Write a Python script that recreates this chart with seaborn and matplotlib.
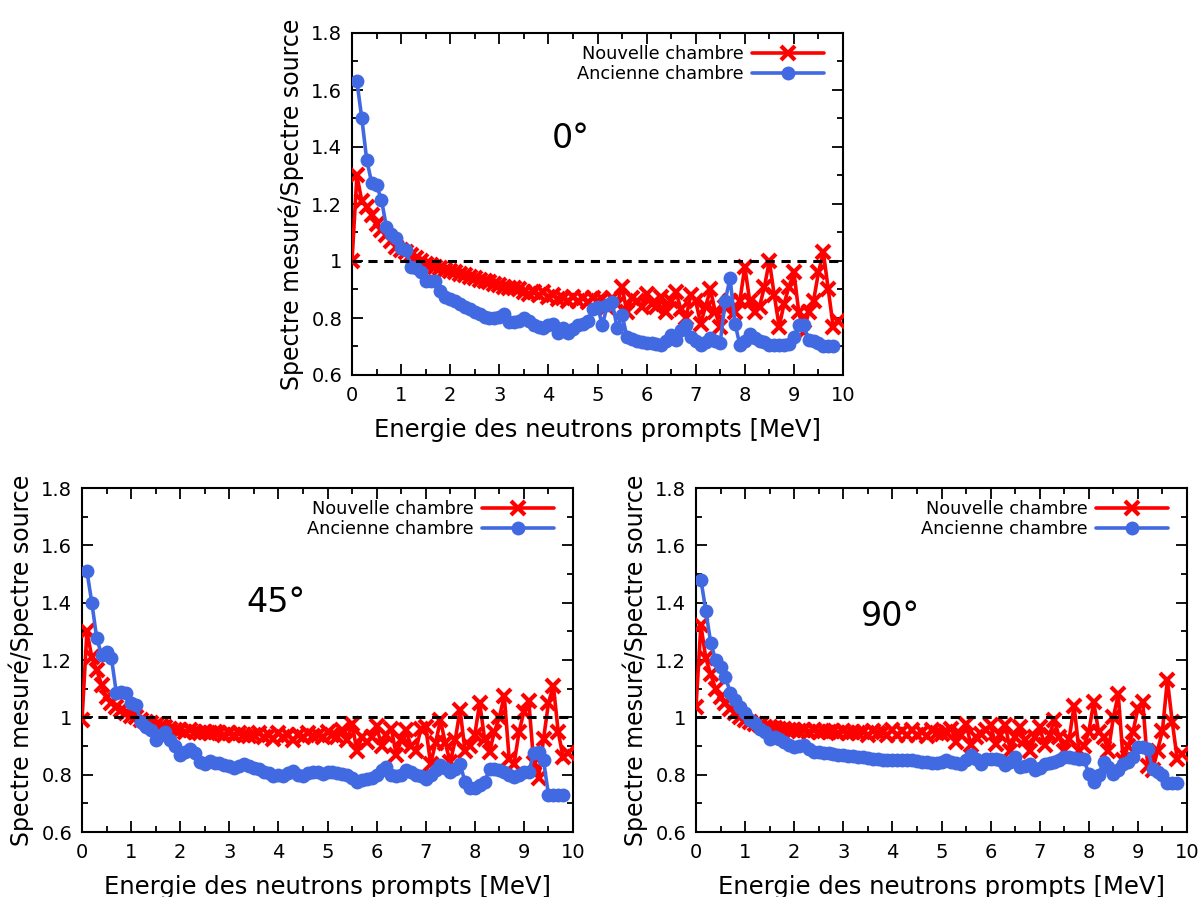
import matplotlib
matplotlib.use("Agg")
import matplotlib.pyplot as plt
import seaborn as sns
import pandas as pd
from matplotlib.ticker import MultipleLocator

# ---------------- data ----------------
energy = [0.0, 0.1, 0.2, 0.3, 0.4, 0.5, 0.6, 0.7, 0.8, 0.9,
          1.0, 1.1, 1.2, 1.3, 1.4, 1.5, 1.6, 1.7, 1.8, 1.9,
          2.0, 2.1, 2.2, 2.3, 2.4, 2.5, 2.6, 2.7, 2.8, 2.9,
          3.0, 3.1, 3.2, 3.3, 3.4, 3.5, 3.6, 3.7, 3.8, 3.9,
          4.0, 4.1, 4.2, 4.3, 4.4, 4.5, 4.6, 4.7, 4.8, 4.9,
          5.0, 5.1, 5.2, 5.3, 5.4, 5.5, 5.6, 5.7, 5.8, 5.9,
          6.0, 6.1, 6.2, 6.3, 6.4, 6.5, 6.6, 6.7, 6.8, 6.9,
          7.0, 7.1, 7.2, 7.3, 7.4, 7.5, 7.6, 7.7, 7.8, 7.9,
          8.0, 8.1, 8.2, 8.3, 8.4, 8.5, 8.6, 8.7, 8.8, 8.9,
          9.0, 9.1, 9.2, 9.3, 9.4, 9.5, 9.6, 9.7, 9.8, 9.9]
energy_old = energy[1:99]   # 0.1 ... 9.8

new_0 = [1.00, 1.30, 1.21, 1.19, 1.16, 1.13, 1.11, 1.09, 1.07, 1.05,
         1.04, 1.03, 1.02, 1.01, 1.00, 0.99, 0.985, 0.98, 0.975, 0.97,
         0.965, 0.96, 0.955, 0.95, 0.945, 0.94, 0.935, 0.93, 0.925, 0.92,
         0.915, 0.91, 0.905, 0.905, 0.90, 0.89, 0.885, 0.89, 0.88, 0.89,
         0.875, 0.88, 0.865, 0.87, 0.86, 0.875, 0.86, 0.87, 0.855, 0.87,
         0.86, 0.865, 0.84, 0.87, 0.85, 0.91, 0.82, 0.87, 0.86, 0.84,
         0.885, 0.85, 0.84, 0.875, 0.82, 0.86, 0.89, 0.83, 0.80, 0.88,
         0.86, 0.78, 0.84, 0.90, 0.82, 0.77, 0.84, 0.86, 0.82, 0.86,
         0.98, 0.86, 0.82, 0.84, 0.91, 1.00, 0.88, 0.77, 0.85, 0.91,
         0.96, 0.82, 0.75, 0.82, 0.86, 0.96, 1.03, 0.90, 0.77, 0.79]
old_0 = [1.63, 1.50, 1.355, 1.275, 1.265, 1.215, 1.12, 1.095, 1.08, 1.045,
         1.04, 0.98, 0.975, 0.96, 0.93, 0.93, 0.93, 0.895, 0.872, 0.866,
         0.86, 0.85, 0.84, 0.83, 0.82, 0.815, 0.805, 0.80, 0.80, 0.805,
         0.815, 0.787, 0.787, 0.79, 0.80, 0.79, 0.775, 0.77, 0.764, 0.775,
         0.78, 0.747, 0.765, 0.747, 0.76, 0.775, 0.78, 0.79, 0.83, 0.84,
         0.775, 0.846, 0.857, 0.764, 0.81, 0.735, 0.728, 0.72, 0.715, 0.713,
         0.713, 0.71, 0.706, 0.72, 0.74, 0.724, 0.758, 0.775, 0.735, 0.72,
         0.706, 0.715, 0.73, 0.72, 0.713, 0.86, 0.94, 0.78, 0.706, 0.72,
         0.745, 0.73, 0.72, 0.715, 0.706, 0.706, 0.706, 0.706, 0.71, 0.735,
         0.775, 0.775, 0.724, 0.72, 0.713, 0.70, 0.70, 0.70]

new_45 = [0.99, 1.30, 1.21, 1.165, 1.113, 1.07, 1.05, 1.035, 1.026, 1.015,
          1.005, 1.0, 0.99, 0.985, 0.98, 0.975, 0.97, 0.965, 0.96, 0.955,
          0.955, 0.95, 0.955, 0.95, 0.945, 0.95, 0.945, 0.95, 0.945, 0.94,
          0.945, 0.94, 0.945, 0.94, 0.935, 0.94, 0.945, 0.93, 0.94, 0.925,
          0.945, 0.93, 0.94, 0.92, 0.94, 0.93, 0.945, 0.935, 0.94, 0.93,
          0.948, 0.94, 0.93, 0.955, 0.92, 0.977, 0.884, 0.93, 0.913, 0.93,
          0.97, 0.90, 0.94, 0.96, 0.87, 0.92, 0.955, 0.90, 0.884, 0.96,
          0.966, 0.838, 0.91, 0.99, 0.91, 0.843, 0.92, 1.026, 0.884, 0.90,
          0.94, 1.05, 0.924, 0.88, 0.95, 1.0, 1.075, 0.855, 0.838, 0.948,
          1.02, 1.056, 0.84, 0.79, 0.924, 1.05, 1.11, 0.948, 0.86, 0.875]
old_45 = [1.51, 1.40, 1.276, 1.218, 1.229, 1.206, 1.085, 1.088, 1.084, 1.049,
          1.043, 0.985, 0.968, 0.955, 0.922, 0.94, 0.95, 0.92, 0.899, 0.87,
          0.88, 0.888, 0.876, 0.845, 0.836, 0.848, 0.842, 0.84, 0.832, 0.83,
          0.825, 0.83, 0.836, 0.83, 0.825, 0.82, 0.81, 0.805, 0.797, 0.80,
          0.797, 0.805, 0.814, 0.80, 0.797, 0.805, 0.808, 0.808, 0.804, 0.81,
          0.81, 0.805, 0.804, 0.80, 0.79, 0.775, 0.78, 0.786, 0.79, 0.80,
          0.815, 0.826, 0.80, 0.797, 0.80, 0.815, 0.81, 0.80, 0.797, 0.786,
          0.80, 0.815, 0.832, 0.825, 0.81, 0.82, 0.838, 0.775, 0.752, 0.755,
          0.763, 0.775, 0.82, 0.82, 0.815, 0.81, 0.80, 0.792, 0.80, 0.81,
          0.81, 0.874, 0.88, 0.85, 0.73, 0.73, 0.73, 0.73]

new_90 = [1.037, 1.322, 1.206, 1.15, 1.10, 1.07, 1.05, 1.03, 1.015, 1.002,
          0.99, 0.985, 0.978, 0.972, 0.968, 0.965, 0.962, 0.96, 0.958, 0.956,
          0.955, 0.952, 0.956, 0.95, 0.955, 0.95, 0.953, 0.948, 0.952, 0.947,
          0.952, 0.946, 0.95, 0.944, 0.95, 0.94, 0.952, 0.945, 0.948, 0.94,
          0.955, 0.94, 0.952, 0.937, 0.955, 0.94, 0.95, 0.936, 0.955, 0.945,
          0.943, 0.95, 0.96, 0.913, 0.94, 0.978, 0.902, 0.93, 0.943, 0.955,
          0.972, 0.908, 0.94, 0.972, 0.884, 0.93, 0.966, 0.92, 0.884, 0.93,
          0.966, 0.902, 0.94, 0.99, 0.93, 0.884, 0.925, 1.04, 0.884, 0.90,
          0.95, 1.052, 0.95, 0.931, 0.884, 1.0, 1.08, 0.85, 0.90, 0.95,
          1.03, 1.052, 0.83, 0.815, 0.884, 0.954, 1.13, 0.984, 0.856, 0.873]
old_90 = [1.48, 1.372, 1.26, 1.20, 1.176, 1.142, 1.084, 1.06, 1.037, 1.014,
          0.99, 0.98, 0.96, 0.95, 0.926, 0.932, 0.925, 0.915, 0.905, 0.897,
          0.90, 0.903, 0.89, 0.88, 0.878, 0.876, 0.874, 0.872, 0.87, 0.868,
          0.866, 0.864, 0.862, 0.86, 0.857, 0.855, 0.853, 0.851, 0.851, 0.851,
          0.851, 0.851, 0.85, 0.851, 0.848, 0.845, 0.843, 0.84, 0.839, 0.845,
          0.85, 0.845, 0.84, 0.838, 0.85, 0.868, 0.855, 0.838, 0.856, 0.856,
          0.856, 0.85, 0.832, 0.845, 0.862, 0.826, 0.83, 0.838, 0.815, 0.825,
          0.838, 0.84, 0.845, 0.85, 0.862, 0.86, 0.858, 0.856, 0.853, 0.804,
          0.775, 0.80, 0.844, 0.826, 0.804, 0.815, 0.838, 0.844, 0.86, 0.897,
          0.897, 0.891, 0.82, 0.81, 0.80, 0.77, 0.77, 0.77]

angle_labels = ["0°", "45°", "90°"]
series_names = ["Nouvelle chambre", "Ancienne chambre"]
xlabel = "Energie des neutrons prompts [MeV]"
ylabel = "Spectre mesuré/Spectre source"
ytick_vals = [0.6, 0.8, 1.0, 1.2, 1.4, 1.6, 1.8]
ytick_labels = ["0.6", "0.8", "1", "1.2", "1.4", "1.6", "1.8"]
xtick_vals = [0, 1, 2, 3, 4, 5, 6, 7, 8, 9, 10]

# ---------------- style ----------------
sns.set_style("ticks")
plt.rcParams["font.family"] = ["DejaVu Sans"]
plt.rcParams["text.color"] = "black"
plt.rcParams["axes.labelcolor"] = "black"
plt.rcParams["xtick.color"] = "black"
plt.rcParams["ytick.color"] = "black"

RED = "#ff0000"
BLUE = "#4169e1"

fig = plt.figure(figsize=(12, 8.97), dpi=100)
W, H = 1200, 897


def make_ax(left, top, right, bottom):
    return fig.add_axes([left / W, 1 - bottom / H, (right - left) / W, (bottom - top) / H])


axes = [make_ax(352, 33, 843, 375), make_ax(82, 488, 573, 832), make_ax(696, 488, 1187, 832)]
panels = [(new_0, old_0, angle_labels[0], (4.45, 1.43)),
          (new_45, old_45, angle_labels[1], (3.95, 1.40)),
          (new_90, old_90, angle_labels[2], (3.95, 1.35))]

for ax, (new, old, lab, pos) in zip(axes, panels):
    df_new = pd.DataFrame({"E": energy, "R": new})
    df_old = pd.DataFrame({"E": energy_old, "R": old})
    sns.lineplot(data=df_new, x="E", y="R", ax=ax, color=RED, marker="x",
                 markersize=10, markeredgewidth=3.0, markeredgecolor=RED,
                 linewidth=2.6, estimator=None, sort=False,
                 label=series_names[0], zorder=3)
    sns.lineplot(data=df_old, x="E", y="R", ax=ax, color=BLUE, marker="o",
                 markersize=10, markeredgewidth=0, linewidth=2.6,
                 estimator=None, sort=False, label=series_names[1], zorder=4)
    ax.axhline(1.0, color="black", linestyle=(0, (3, 2.2)), linewidth=2.2, zorder=5)

    ax.set_xlim(0, 10)
    ax.set_ylim(0.6, 1.8)
    ax.set_xticks(xtick_vals)
    ax.set_xticklabels([str(v) for v in xtick_vals])
    ax.set_yticks(ytick_vals)
    ax.set_yticklabels(ytick_labels)
    ax.xaxis.set_minor_locator(MultipleLocator(0.5))
    ax.yaxis.set_minor_locator(MultipleLocator(0.1))
    ax.tick_params(which="both", direction="in", top=True, right=True,
                   width=1.3, colors="black", labelcolor="black", labelsize=14)
    ax.tick_params(axis="x", which="both", pad=8)
    ax.tick_params(axis="y", which="both", pad=7)
    ax.tick_params(which="major", length=8)
    ax.tick_params(which="minor", length=4)
    for sp in ax.spines.values():
        sp.set_visible(True)
        sp.set_linewidth(1.5)
        sp.set_color("black")
    ax.set_xlabel(xlabel, fontsize=17.5, labelpad=9, color="black")
    ax.set_ylabel(ylabel, fontsize=17, labelpad=5, color="black")
    ax.text(pos[0], pos[1], lab, fontsize=24, ha="center", va="center", color="black")

    leg = ax.legend(loc="upper right", bbox_to_anchor=(1 - 7 / 491, 1.0),
                    frameon=False, markerfirst=False,
                    fontsize=12.8, handlelength=4.0, handletextpad=0.5,
                    labelspacing=0.1, borderaxespad=0.3)
    for t in leg.get_texts():
        t.set_color("black")

fig.savefig("out.png", dpi=100)
